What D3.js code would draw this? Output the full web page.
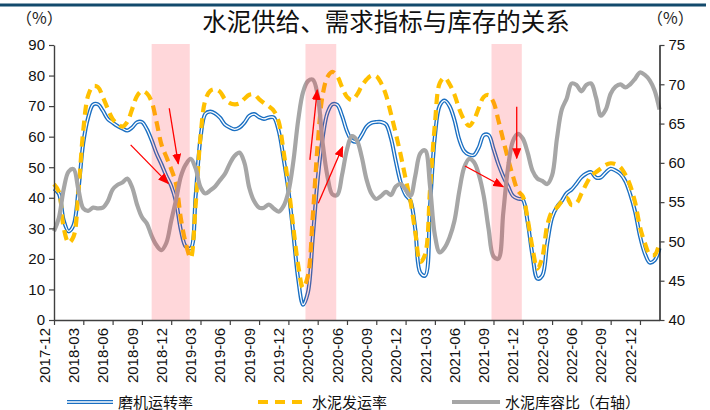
<!DOCTYPE html>
<html><head><meta charset="utf-8">
<script src="https://cdnjs.cloudflare.com/ajax/libs/d3/7.8.5/d3.min.js"></script>
<style>body{margin:0;background:#fff}svg{display:block}</style>
</head><body><svg id="c" width="710" height="410"></svg>
<script>
// ---- data ----
const title = "水泥供给、需求指标与库存的关系";
const seriesNames = ["磨机运转率", "水泥发运率", "水泥库容比（右轴）"];
const unitLabel = "（%）";
// half-month observations starting 2017-12 (index i -> month offset i/2)
const tickLabels = ["2017-12","2018-03","2018-06","2018-09","2018-12","2019-03","2019-06","2019-09","2019-12","2020-03","2020-06","2020-09","2020-12","2021-03","2021-06","2021-09","2021-12","2022-03","2022-06","2022-09","2022-12"];
const leftTicks = [0,10,20,30,40,50,60,70,80,90];
const rightTicks = [40,45,50,55,60,65,70,75];
const millRate = [43,41.3,32.5,29,31,42.5,58,66.3,70.5,70.6,
68.5,65.8,64.6,63.5,62.7,62,63,64.7,64.8,62.5,
58.8,54.5,51,47.2,43.9,38.6,29.3,24,23.5,40.5,
59.5,67.5,68.2,67.6,66.2,64,63,62.4,63,64.6,
66.8,67.4,66.4,65.8,66.3,66.3,62,53,42.5,28.4,
13.5,5,9,27,46,59.5,67.8,70.6,70.4,66.8,
61.8,58.8,58.4,60.5,63.3,64.5,64.8,64.8,64,59.5,
51.9,45,41,39,29.5,15.5,14.5,37,60,70.2,
71.8,70,65.5,59,55.3,54.1,54,56.5,60.5,60.5,
56,51,47,43.7,40.6,39.7,39.4,32,21,13.5,
14.5,25,33.5,37,39,41.5,42.7,44.6,46.7,47.9,
48.4,46.6,46.7,48.3,49.5,48.9,47.8,45.5,41.2,35.5,
27.5,21.8,18.8,19.5,23.5];
const shipRate = [44.5,42,30,25.3,27.3,42,62.2,73.5,76.5,76.2,
73,69.2,65.8,64.2,63.3,64.8,69,73.3,74.9,74.2,
71.4,64.8,57.5,53.4,49.4,44.5,33,25,20.3,37.5,
60,72,75,75.5,74.7,72.3,71,70.6,70.9,72.4,
73.7,73.8,72.3,71,69.9,68.5,65,55.3,44,30.5,
18,10.5,14.5,34,57.5,73.5,79.5,81.2,79.8,76.2,
73,72,73.6,76.5,78.7,80,79.8,77.5,73.6,67.5,
61,54,46.3,38.9,28.6,19,21.5,42.5,64,77.5,
79.3,77.2,73.8,69,65.5,63.5,65.5,69.4,73,73.6,
71.3,65.4,58.9,52.6,47,42.3,40.5,33,23.5,16.8,
20.5,30.9,35.5,36.8,38.8,40,37.6,38.2,41.3,44.5,
47.2,48.4,49.6,50.8,51.3,51,50,47.6,44,38.5,
30.5,25.2,21.5,21.3,25.3];
const inventory = [51.3,53,56.7,58.9,59.2,56.6,54.2,53.9,54.3,54.2,
54.3,55.1,56.6,57.2,57.5,58,56.9,54.7,53.1,52.3,
50.7,49.5,48.9,49.8,52.6,55.3,58.3,59.8,60.5,59.3,
56.9,56.1,56.5,57,57.8,58.6,59.9,60.9,61.3,60,
56.8,55.1,54.3,54.3,54.7,54.2,53.8,54.5,56.3,60.1,
65.4,69,70.4,70.6,68.6,62.6,58.3,56,55.9,58.5,
61.7,63.4,62.9,60.8,57.9,56.1,55.4,55.8,56.3,55.9,
57,57.3,56.6,55.8,58.4,61.2,61.6,57.1,50.8,48.6,
49.2,50.5,52.6,56.4,59.4,60.5,60.1,58.5,55.8,51.6,
48.1,47.8,53.6,59.5,62.8,63.7,63.1,61.3,59,58,
57.7,57.3,58.4,63.1,66.8,68.2,70.1,69.9,69.1,69.9,
70.1,68.3,66,66.8,68.8,69.7,70,69.6,70,70.7,
71.5,71.2,70.5,69.2,66.8];
// shaded periods (month offsets from 2017-12)
const bandStart = [10, 25.75, 44.8];
const bandEnd = [13.9, 28.9, 47.9];
// annotation arrows in data units: [month, left-axis value] -> [month, value]
const arrowFrom = [[7.85,57.3],[11.8,69.3],[26.2,52.4],[27.06,38.2],[42.08,50.4],[47.38,69.8]];
const arrowTo   = [[11.7,44.7],[12.73,51.1],[26.96,75.3],[29.56,56.7],[46.0,43.6],[47.38,52.9]];

// ---- chart ----
const svg = d3.select("#c");
const x = d3.scaleLinear().domain([0, 62]).range([54, 659.5]);
const yL = d3.scaleLinear().domain([0, 90]).range([320, 45]);
const yR = d3.scaleLinear().domain([40, 75]).range([320, 45]);
const numFont = "'Liberation Sans', Arial, sans-serif";
const cjkFont = "'Noto Sans CJK SC', sans-serif";

// top rule
svg.append("line").attr("x1",0).attr("x2",706).attr("y1",5).attr("y2",5)
  .attr("stroke","#134a6c").attr("stroke-width",3);

// title & units
svg.append("text").attr("x",386).attr("y",31).attr("text-anchor","middle")
  .attr("font-family",cjkFont).attr("font-size",24.5).attr("fill","#111").text(title);
svg.append("text").attr("x",16).attr("y",24).attr("font-family",cjkFont).attr("font-size",16).attr("fill","#222").text(unitLabel);
svg.append("text").attr("x",647).attr("y",24).attr("font-family",cjkFont).attr("font-size",16).attr("fill","#222").text(unitLabel);

// lines
const idx = (d,i) => x(i/2);
const curve = d3.curveCatmullRom.alpha(0.5);
const lineL = d3.line().x(idx).y(d => yL(d)).curve(curve);
const lineR = d3.line().x(idx).y(d => yR(d)).curve(curve);

const g = svg.append("g");
g.append("path").datum(millRate).attr("d", lineL).attr("fill","none")
  .attr("stroke","#1a6fc2").attr("stroke-width",4).attr("stroke-linejoin","round");
g.append("path").datum(millRate).attr("d", lineL).attr("fill","none")
  .attr("stroke","#fff").attr("stroke-width",1.3).attr("stroke-linejoin","round");
g.append("path").datum(shipRate).attr("d", lineL).attr("fill","none")
  .attr("stroke","#ffc000").attr("stroke-width",4.2).attr("stroke-dasharray","10,6");
g.append("path").datum(inventory).attr("d", lineR).attr("fill","none")
  .attr("stroke","#a6a6a6").attr("stroke-width",4.2).attr("stroke-linejoin","round");

// shaded bands overlay
svg.append("g").selectAll("rect").data(bandStart).join("rect")
  .attr("x", d => x(d)).attr("width", (d,i) => x(bandEnd[i]) - x(d))
  .attr("y", yL(90) - 1).attr("height", yL(0) - yL(90) + 1)
  .attr("fill","rgba(255,40,60,0.19)");

// axes
const axL = svg.append("g").attr("transform","translate(54,0)")
  .call(d3.axisLeft(yL).tickValues(leftTicks).tickSize(5).tickSizeOuter(0).tickPadding(4));
const axR = svg.append("g").attr("transform","translate(659.5,0)")
  .call(d3.axisRight(yR).tickValues(rightTicks).tickSize(5).tickSizeOuter(0).tickPadding(4));
const tickIdx = tickLabels.map((d,i) => i*3);
const axB = svg.append("g").attr("transform","translate(0,320)")
  .call(d3.axisBottom(x).tickValues(tickIdx).tickFormat((d,i) => tickLabels[i]).tickSize(5).tickSizeOuter(0));
[axL, axR, axB].forEach(a => {
  a.selectAll("text").attr("font-family", numFont).attr("font-size", 15).attr("fill", "#111");
  a.select(".domain").attr("stroke", "#404040").attr("stroke-width", 1.4);
  a.selectAll(".tick line").attr("stroke", "#404040").attr("stroke-width", 1.2);
});
axR.select(".domain").attr("stroke","#111");
axB.selectAll("text").attr("transform","rotate(-90)").attr("text-anchor","end")
  .attr("dx","-0.4em").attr("dy","-0.32em").attr("x",-2).attr("y",0);

// arrows
const defs = svg.append("defs");
defs.append("marker").attr("id","ah").attr("markerUnits","userSpaceOnUse")
  .attr("markerWidth",11).attr("markerHeight",9).attr("refX",10).attr("refY",4.5)
  .attr("orient","auto").append("path").attr("d","M0,0 L11,4.5 L0,9 Z").attr("fill","#ff0000");
svg.append("g").selectAll("line").data(arrowFrom).join("line")
  .attr("x1", d => x(d[0])).attr("y1", d => yL(d[1]))
  .attr("x2", (d,i) => x(arrowTo[i][0])).attr("y2", (d,i) => yL(arrowTo[i][1]))
  .attr("stroke","#ff0000").attr("stroke-width",1.3).attr("marker-end","url(#ah)");

// legend
const ly = 402;
const lg = svg.append("g");
lg.append("line").attr("x1",67).attr("x2",113).attr("y1",ly).attr("y2",ly).attr("stroke","#1a6fc2").attr("stroke-width",4);
lg.append("line").attr("x1",67).attr("x2",113).attr("y1",ly).attr("y2",ly).attr("stroke","#fff").attr("stroke-width",1.3);
lg.append("line").attr("x1",258).attr("x2",304).attr("y1",ly).attr("y2",ly).attr("stroke","#ffc000").attr("stroke-width",4.2).attr("stroke-dasharray","10,7");
lg.append("line").attr("x1",452).attr("x2",500).attr("y1",ly).attr("y2",ly).attr("stroke","#a6a6a6").attr("stroke-width",4.2);
const lx = [118, 312, 505];
lg.selectAll("text").data(seriesNames).join("text")
  .attr("x",(d,i)=>lx[i]).attr("y",407.5).attr("font-family",cjkFont).attr("font-size",15).attr("fill","#111").text(d=>d);
</script></body></html>
